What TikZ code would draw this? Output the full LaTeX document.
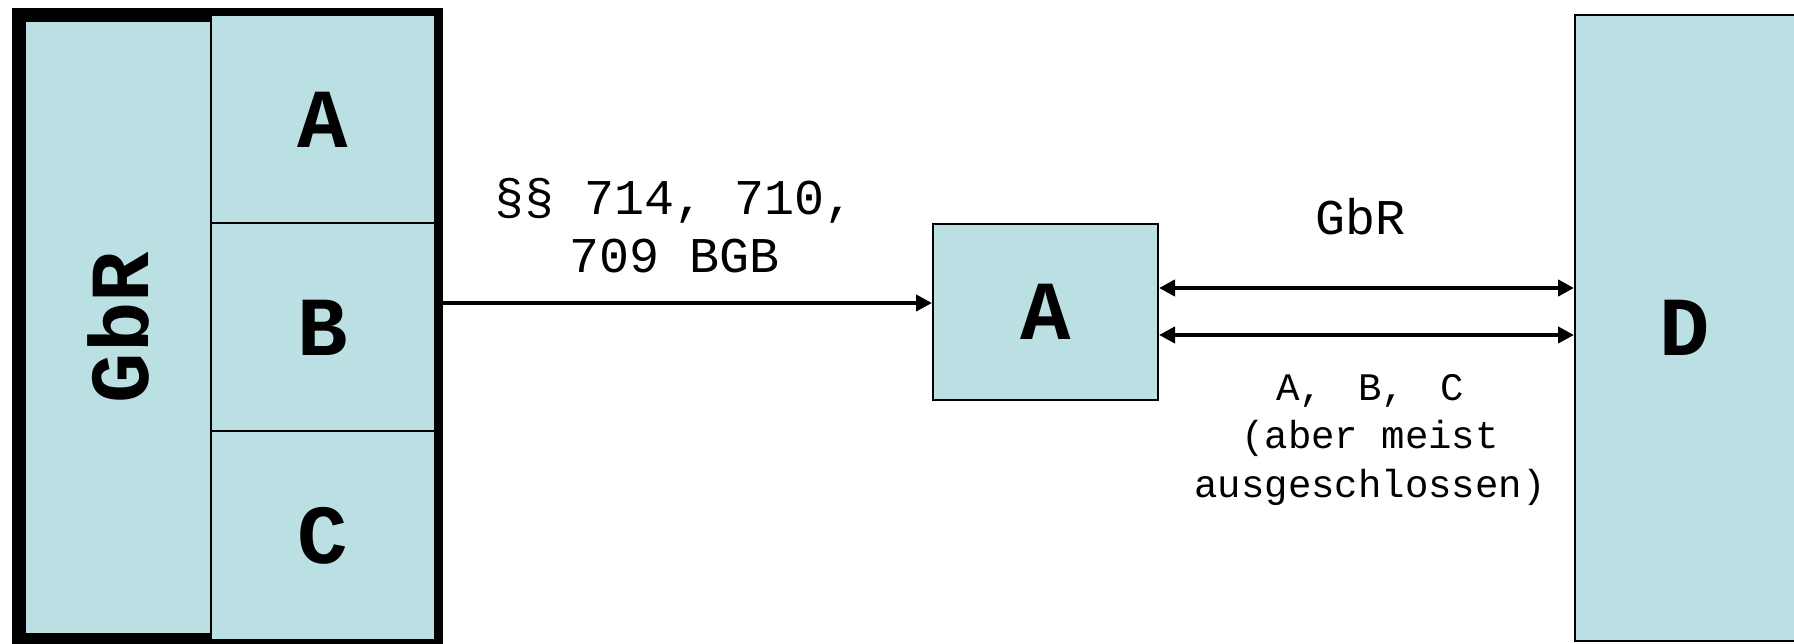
\documentclass[tikz,border=0pt]{standalone}
\usepackage{fontspec}
\setmonofont{Liberation Mono}
\usepackage{tikz}
\usetikzlibrary{positioning, arrows.meta}
\definecolor{boxfill}{RGB}{186,224,227}
\tikzstyle{gbrbox} = [
    rectangle, draw, line width=7pt, fill=boxfill,
    minimum width=208.5pt, minimum height=312.5pt % thick outer frame
]
\tikzstyle{member} = [
    rectangle, draw, line width=1pt, fill=boxfill, outer sep=0pt,
    minimum width=112pt, minimum height=104pt,
    font=\ttfamily\bfseries\fontsize{42}{50}\selectfont
]
\tikzstyle{party} = [
    rectangle, draw, line width=1pt, fill=boxfill,
    font=\ttfamily\bfseries\fontsize{42}{50}\selectfont
]
\tikzstyle{bigletter} = [font=\ttfamily\bfseries\fontsize{42}{50}\selectfont]
\tikzstyle{lawtext} = [align=center, font=\ttfamily\fontsize{25}{29}\selectfont]
\tikzstyle{smalltext} = [align=center, font=\ttfamily\fontsize{19.5}{24.25}\selectfont]
\tikzstyle{flow} = [line width=2pt, -{Triangle[length=8pt, width=8pt]}]
\tikzstyle{both} = [line width=2pt, {Triangle[length=8pt, width=8pt]}-{Triangle[length=8pt, width=8pt]}]

\begin{document}
\begin{tikzpicture}[x=0.5pt, y=0.5pt]
        \useasboundingbox (0,0) rectangle (1794,643);
        % GbR and its partners
        \node[gbrbox] (gbr) at (227.5,315.5) {};
        \node[bigletter, rotate=90] (gbrname) at (118.5,315.5) {GbR};
        \node[member] (memberB) at (323,315.5) {B};
        \node[member] (memberA) [above=0pt of memberB] {A};
        \node[member] (memberC) [below=0pt of memberB] {C};

        % Acting partner and third party
        \node[party, minimum width=112.5pt, minimum height=88pt] (agent) at (1045.5,331) {A};
        \node[party, minimum width=110pt, minimum height=313pt] (third) at (1685,315) {D};

        % Labels
        \node[lawtext] (lawref) at (675,417) {§§ 714, 710,\\709 BGB};
        \node[lawtext, anchor=base] (gbrlabel) at (1360,408) {GbR};
        \node[smalltext] (partners) at (1370,203) {A,\hspace{.9em}B,\hspace{.9em}C\\(aber meist\\ausgeschlossen)};

        % Connectors
        \coordinate (into) at ([yshift=4.5pt]agent.west);
        \coordinate (upper) at ([yshift=12pt]agent.east);
        \coordinate (lower) at ([yshift=-11.5pt]agent.east);
        \draw[flow] (gbr.east |- into) -- (into);
        \draw[both] (upper) -- (upper -| third.west);
        \draw[both] (lower) -- (lower -| third.west);

    \end{tikzpicture}
\end{document}
